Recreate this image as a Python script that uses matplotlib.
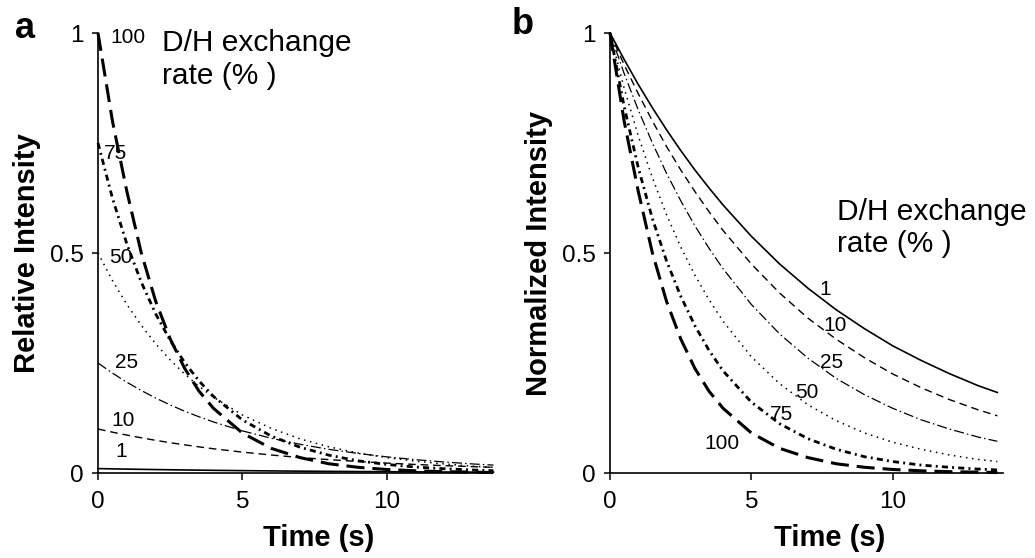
import matplotlib
matplotlib.use('Agg')
import matplotlib.pyplot as plt
import numpy as np

plt.rcParams['font.family'] = ['Liberation Sans', 'DejaVu Sans']

# time points (s)
time_s = [0, 0.5, 1, 1.5, 2, 2.5, 3, 3.5, 4, 5, 6, 7, 8, 9, 10, 11, 12, 13, 13.7]

# D/H exchange rates (%)
rates = [1, 10, 25, 50, 75, 100]

# normalized intensity (panel b) for each rate
norm_1 = [1.0, 0.940, 0.883, 0.830, 0.780, 0.733, 0.689, 0.648, 0.609, 0.538,
          0.475, 0.420, 0.371, 0.328, 0.289, 0.256, 0.226, 0.199, 0.183]
norm_10 = [1.0, 0.928, 0.862, 0.800, 0.742, 0.689, 0.640, 0.594, 0.551, 0.475,
           0.409, 0.352, 0.304, 0.262, 0.225, 0.194, 0.167, 0.144, 0.130]
norm_25 = [1.0, 0.908, 0.825, 0.750, 0.681, 0.619, 0.562, 0.511, 0.464, 0.383,
           0.316, 0.261, 0.215, 0.178, 0.147, 0.121, 0.100, 0.082, 0.072]
norm_50 = [1.0, 0.875, 0.766, 0.671, 0.587, 0.514, 0.450, 0.394, 0.345, 0.264,
           0.203, 0.155, 0.119, 0.091, 0.070, 0.054, 0.041, 0.031, 0.026]
norm_75 = [1.0, 0.833, 0.694, 0.578, 0.482, 0.402, 0.335, 0.279, 0.232, 0.161,
           0.112, 0.078, 0.054, 0.037, 0.026, 0.018, 0.013, 0.009, 0.007]
norm_100 = [1.0, 0.800, 0.640, 0.500, 0.390, 0.305, 0.238, 0.186, 0.147, 0.091,
            0.056, 0.035, 0.021, 0.013, 0.008, 0.005, 0.003, 0.002, 0.001]

norm_curves = [norm_1, norm_10, norm_25, norm_50, norm_75, norm_100]

# line styles: (linewidth, dash pattern)
styles = [
    (1.2, '-'),
    (1.0, (0, (5.5, 3.5))),
    (0.9, (0, (8, 2.5, 1.2, 2.5))),
    (1.1, (0, (1, 3))),
    (2.0, (0, (2.2, 1.5, 0.7, 1.5))),
    (2.2, (0, (5.9, 2.6))),
]

# label positions (time, value)
labels_a = [(0.8, 0.048), (0.87, 0.12), (1.0, 0.252), (0.8, 0.49), (0.62, 0.727), (1.05, 0.989)]
labels_b = [(7.6, 0.416), (7.95, 0.336), (7.85, 0.252), (6.95, 0.182), (6.05, 0.132), (3.95, 0.068)]

fig = plt.figure(figsize=(10.35, 5.58), dpi=100)
ax_a = fig.add_axes([98 / 1035, 85 / 558, 394 / 1035, 440 / 558])
ax_b = fig.add_axes([610 / 1035, 85 / 558, 393 / 1035, 440 / 558])

t = np.array(time_s)
for i, rate in enumerate(rates):
    lw, ls = styles[i]
    y_norm = np.array(norm_curves[i])
    ax_a.plot(t, y_norm * rate / 100.0, color='black', lw=lw, linestyle=ls, clip_on=False)
    ax_b.plot(t, y_norm, color='black', lw=lw, linestyle=ls, clip_on=False)
    ax_a.text(labels_a[i][0], labels_a[i][1], str(rate), fontsize=15, ha='center', va='center')
    ax_b.text(labels_b[i][0], labels_b[i][1], str(rate), fontsize=15, ha='center', va='center')

ax_a.text(2.22, 0.94, 'D/H exchange\nrate (% )', fontsize=21.5, ha='left', va='center', linespacing=1.2)
ax_b.text(8.02, 0.557, 'D/H exchange\nrate (% )', fontsize=21.5, ha='left', va='center', linespacing=1.2)

for ax, xmax, ylab in [(ax_a, 13.65, 'Relative Intensity'), (ax_b, 13.9, 'Normalized Intensity')]:
    ax.set_xlim(0, xmax)
    ax.set_ylim(0, 1)
    ax.spines['top'].set_visible(False)
    ax.spines['right'].set_visible(False)
    ax.spines['left'].set_linewidth(1.2)
    ax.spines['bottom'].set_linewidth(1.2)
    ax.set_xticks([0, 5, 10])
    ax.set_xticklabels(['0', '5', '10'])
    ax.set_yticks([0, 0.5, 1])
    ax.set_yticklabels(['0', '0.5', '1'])
    ax.tick_params(axis='x', direction='out', length=5, width=1.1, pad=8, labelsize=17.5)
    ax.tick_params(axis='y', direction='out', length=4, width=1.1, pad=6, labelsize=17.5)
    ax.set_xlabel('Time (s)', fontsize=21, fontweight='bold')
    ax.set_ylabel(ylab, fontsize=21, fontweight='bold')
    ax.xaxis.set_label_coords(0.56, -0.115)
    ax.yaxis.set_label_coords(-0.145, 0.5)

fig.text(25 / 1035, 1 - 28 / 558, 'a', fontsize=26, fontweight='bold', ha='center', va='center')
fig.text(523 / 1035, 1 - 24 / 558, 'b', fontsize=26, fontweight='bold', ha='center', va='center')

fig.savefig('out.png', dpi=100)
